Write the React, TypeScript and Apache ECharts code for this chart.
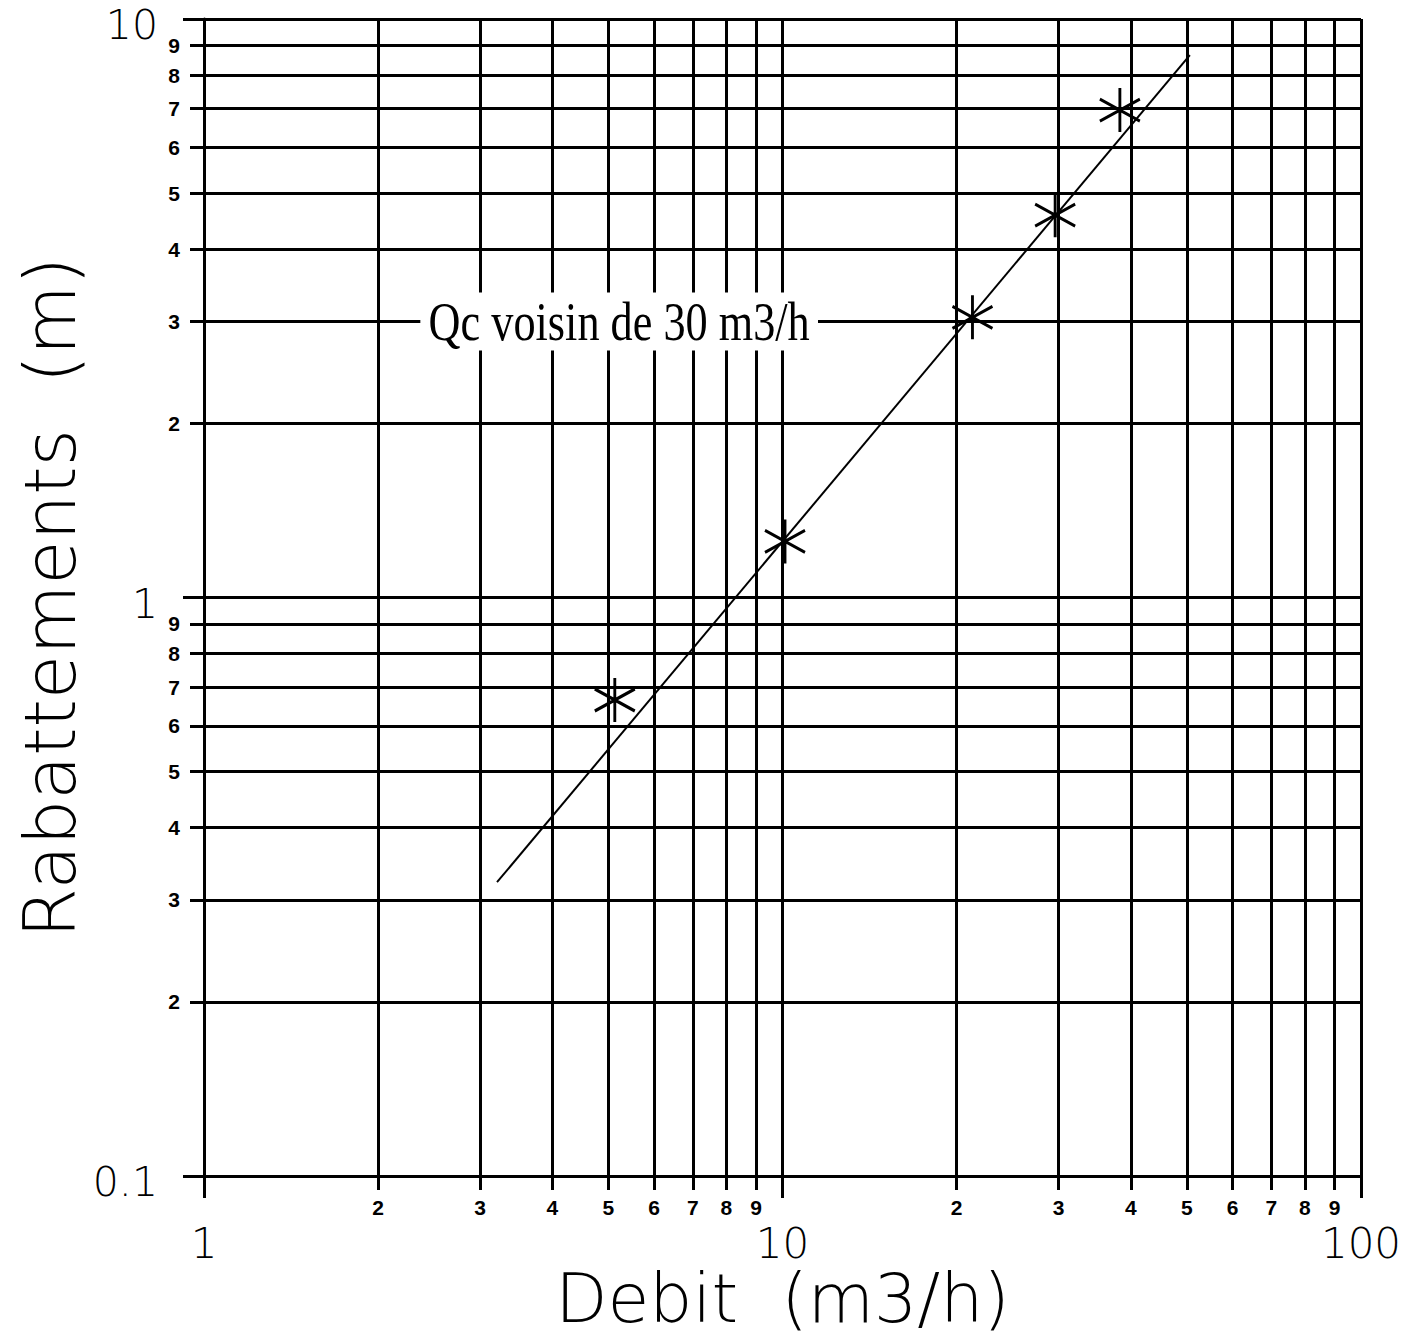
import React, { useEffect, useRef } from "react";
import * as echarts from "echarts";

// ---- data ----
const xMajor = [1, 10, 100];
const xMinor = [2, 3, 4, 5, 6, 7, 8, 9, 20, 30, 40, 50, 60, 70, 80, 90];
const yMajor = [0.1, 1, 10];
const yMinor = [0.2, 0.3, 0.4, 0.5, 0.6, 0.7, 0.8, 0.9, 2, 3, 4, 5, 6, 7, 8, 9];
const xMajorLabels = ["1", "10", "100"];
const yMajorLabels = ["0.1", "1", "10"];

const debit = [5.13, 10.1, 21.3, 29.6, 38.3];
const rabattement = [0.665, 1.25, 3.05, 4.58, 6.96];

const fitDebit = [3.21, 50.6];
const fitRabattement = [0.322, 8.66];

const annotationText = "Qc voisin de 30 m3/h";
const annotationDebit = 5.22;
const annotationRabattement = 3;

const xTitle = "Debit  (m3/h)";
const yTitle = "Rabattements  (m)";

const THIN_FONT = "'DejaVu Sans', 'Roboto', sans-serif";
const BOLD_FONT = "'Liberation Sans', Arial, sans-serif";

function minorDigit(v: number): string {
  const p = Math.pow(10, Math.floor(Math.log10(v) + 1e-9));
  return String(Math.round(v / p));
}

function majorLabel(list: number[], labels: string[]) {
  return (v: number) => {
    for (let i = 0; i < list.length; i++) {
      if (Math.abs(Math.log10(v) - Math.log10(list[i])) < 1e-6) return labels[i];
    }
    return "";
  };
}

export default function App() {
  const ref = useRef<HTMLDivElement>(null);

  useEffect(() => {
    if (!ref.current) return;
    const chart = echarts.init(ref.current, undefined, { renderer: "svg" });
    const lineStyle = { color: "#000", width: 3 };

    const option: any = {
      animation: false,
      backgroundColor: "#fff",
      grid: {
        left: 204,
        top: 19,
        width: 1157,
        height: 1157,
        containLabel: false,
        outerBoundsMode: "none",
      },
      xAxis: [
        {
          type: "log",
          logBase: 10,
          min: 1,
          max: 100,
          position: "bottom",
          axisLine: { show: true, lineStyle },
          axisTick: {
            show: true,
            customValues: [...xMajor, ...xMinor],
            length: 14,
            inside: false,
            lineStyle,
          },
          minorTick: { show: false },
          axisLabel: {
            show: true,
            customValues: xMinor,
            formatter: (v: number) => minorDigit(v),
            color: "#000",
            fontFamily: BOLD_FONT,
            fontWeight: "bold",
            fontSize: 21,
            margin: 21,
          },
          splitLine: { show: true, lineStyle },
          name: xTitle,
          nameLocation: "middle",
          nameGap: 88,
          nameMoveOverlap: false,
          nameTextStyle: {
            color: "#000",
            fontFamily: THIN_FONT,
            fontWeight: 200,
            fontSize: 68,
          },
        },
        {
          type: "log",
          logBase: 10,
          min: 1,
          max: 100,
          position: "bottom",
          axisLine: { show: false },
          axisTick: {
            show: true,
            customValues: xMajor,
            length: 22,
            lineStyle,
          },
          axisLabel: {
            show: true,
            customValues: xMajor,
            formatter: majorLabel(xMajor, xMajorLabels),
            color: "#000",
            fontFamily: THIN_FONT,
            fontWeight: 200,
            fontSize: 42,
            margin: 46,
          },
          splitLine: { show: false },
        },
      ],
      yAxis: [
        {
          type: "log",
          logBase: 10,
          min: 0.1,
          max: 10,
          position: "left",
          axisLine: { show: true, lineStyle },
          axisTick: {
            show: true,
            customValues: [...yMajor, ...yMinor],
            length: 14,
            lineStyle,
          },
          minorTick: { show: false },
          axisLabel: {
            show: true,
            customValues: yMinor,
            formatter: (v: number) => minorDigit(v),
            color: "#000",
            fontFamily: BOLD_FONT,
            fontWeight: "bold",
            fontSize: 21,
            margin: 24,
          },
          splitLine: { show: true, lineStyle },
          name: yTitle,
          nameLocation: "middle",
          nameRotate: 90,
          nameGap: 118,
          nameMoveOverlap: false,
          nameTextStyle: {
            color: "#000",
            fontFamily: THIN_FONT,
            fontWeight: 200,
            fontSize: 72,
          },
        },
        {
          type: "log",
          logBase: 10,
          min: 0.1,
          max: 10,
          position: "left",
          axisLine: { show: false },
          axisTick: {
            show: true,
            customValues: yMajor,
            length: 21,
            lineStyle,
          },
          axisLabel: {
            show: true,
            customValues: yMajor,
            formatter: majorLabel(yMajor, yMajorLabels),
            color: "#000",
            fontFamily: THIN_FONT,
            fontWeight: 200,
            fontSize: 41,
            margin: 46,
            verticalAlign: "top",
            lineHeight: 12,
          },
          splitLine: { show: false },
        },
      ],
      series: [
        {
          type: "line",
          xAxisIndex: 0,
          yAxisIndex: 0,
          data: fitDebit.map((x, i) => [x, fitRabattement[i]]),
          showSymbol: false,
          symbol: "none",
          lineStyle: { color: "#000", width: 2 },
          z: 3,
          silent: true,
        },
        {
          type: "scatter",
          xAxisIndex: 0,
          yAxisIndex: 0,
          data: debit.map((x, i) => [x, rabattement[i]]),
          symbol: "path://M20 0 L20 44 M1 11 L39 33 M1 33 L39 11",
          symbolSize: [40, 44],
          itemStyle: {
            color: "rgba(0,0,0,0)",
            borderColor: "#000",
            borderWidth: 3,
            opacity: 1,
          },
          z: 4,
          silent: true,
        },
      ],
    };

    chart.setOption(option);

    const p = chart.convertToPixel({ xAxisIndex: 0, yAxisIndex: 0 }, [
      annotationDebit,
      annotationRabattement,
    ]) as number[];

    chart.setOption({
      graphic: [
        {
          type: "text",
          x: p[0],
          y: p[1],
          scaleX: 0.82,
          z: 10,
          style: {
            text: annotationText,
            font: "54px 'Liberation Serif', 'DejaVu Serif', serif",
            fill: "#000",
            align: "center",
            verticalAlign: "middle",
            textAlign: "center",
            textVerticalAlign: "middle",
            backgroundColor: "#fff",
            padding: [2, 10, 2, 10],
          },
        },
      ],
    });

    return () => chart.dispose();
  }, []);

  return (
    <div
      ref={ref}
      style={{ position: "absolute", left: 0, top: 0, width: 1418, height: 1337 }}
    />
  );
}
